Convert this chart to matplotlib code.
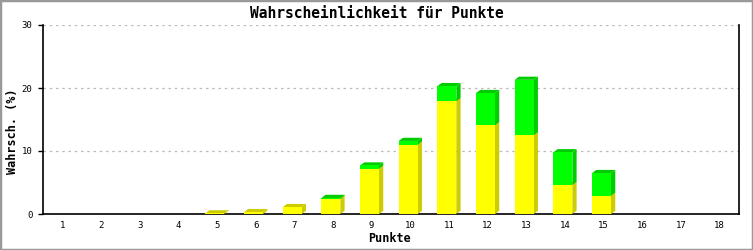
import matplotlib
matplotlib.use("Agg")
import matplotlib.pyplot as plt
from matplotlib.patches import Polygon, Rectangle

categories = [str(i) for i in range(1, 19)]
yellow = [0, 0, 0, 0, 0.1, 0.3, 1.1, 2.4, 7.2, 11.0, 17.9, 14.1, 12.5, 4.6, 2.9, 0, 0, 0]
green = [0, 0, 0, 0, 0, 0, 0, 0.15, 0.5, 0.6, 2.4, 5.1, 8.8, 5.2, 3.6, 0, 0, 0]
yticks = [0, 10, 20, 30]

fig = plt.figure(figsize=(7.53, 2.5), dpi=100)
fig.patches.append(Rectangle((0, 0), 1, 1, transform=fig.transFigure, fill=False,
                             edgecolor="#999999", linewidth=2.5))
ax = fig.add_axes([43/753, 36/250, (739-43)/753, (214-25)/250])
ax.set_xlim(0, len(categories))
ax.set_ylim(0, 30)

w = 0.49
dx = 0.11
dy = 0.5

def box(x0, y0, y1, front, dark):
    ax.add_patch(Polygon([(x0 + w, y0), (x0 + w + dx, y0 + dy), (x0 + w + dx, y1 + dy), (x0 + w, y1)],
                         closed=True, facecolor=dark, edgecolor="none", clip_on=False, zorder=3))
    ax.add_patch(Polygon([(x0, y1), (x0 + dx, y1 + dy), (x0 + w + dx, y1 + dy), (x0 + w, y1)],
                         closed=True, facecolor=dark, edgecolor="none", clip_on=False, zorder=3))
    ax.add_patch(Rectangle((x0, y0), w, y1 - y0, facecolor=front, edgecolor="none", zorder=4))

for i, (yv, gv) in enumerate(zip(yellow, green)):
    if yv <= 0 and gv <= 0:
        continue
    x0 = i + 0.5 - w / 2 - dx / 2
    box(x0, 0, yv, "#ffff00", "#cccc00")
    if gv > 0:
        box(x0, yv, yv + gv, "#00ff00", "#00cc00")

ax.set_yticks(yticks)
ax.set_yticklabels([str(t) for t in yticks], fontsize=6.5, family="DejaVu Sans Mono")
ax.set_xticks([i + 0.5 for i in range(len(categories))])
ax.set_xticklabels(categories, fontsize=6.5, family="DejaVu Sans Mono")
ax.tick_params(axis="x", length=0, pad=5)
ax.tick_params(axis="y", length=3.6, width=1, direction="out", pad=4)
for t in yticks:
    ax.axhline(t, color="#bbbbbb", linestyle=(0, (2, 3)), linewidth=0.9, zorder=1)
ax.spines["top"].set_visible(False)
ax.spines["left"].set_linewidth(1.2)
ax.spines["bottom"].set_linewidth(1.2)
ax.spines["right"].set_linewidth(1.2)

fig.text(0.5, 0.948, "Wahrscheinlichkeit für Punkte", ha="center", va="center",
         fontsize=10.5, family="DejaVu Sans Mono", fontweight="bold")
fig.text(0.517, 0.044, "Punkte", ha="center", va="center",
         fontsize=8.5, family="DejaVu Sans Mono", fontweight="bold")
fig.text(0.0166, 0.476, "Wahrsch. (%)", ha="center", va="center", rotation=90,
         fontsize=8.5, family="DejaVu Sans Mono", fontweight="bold")

fig.savefig("out.png", dpi=100)
